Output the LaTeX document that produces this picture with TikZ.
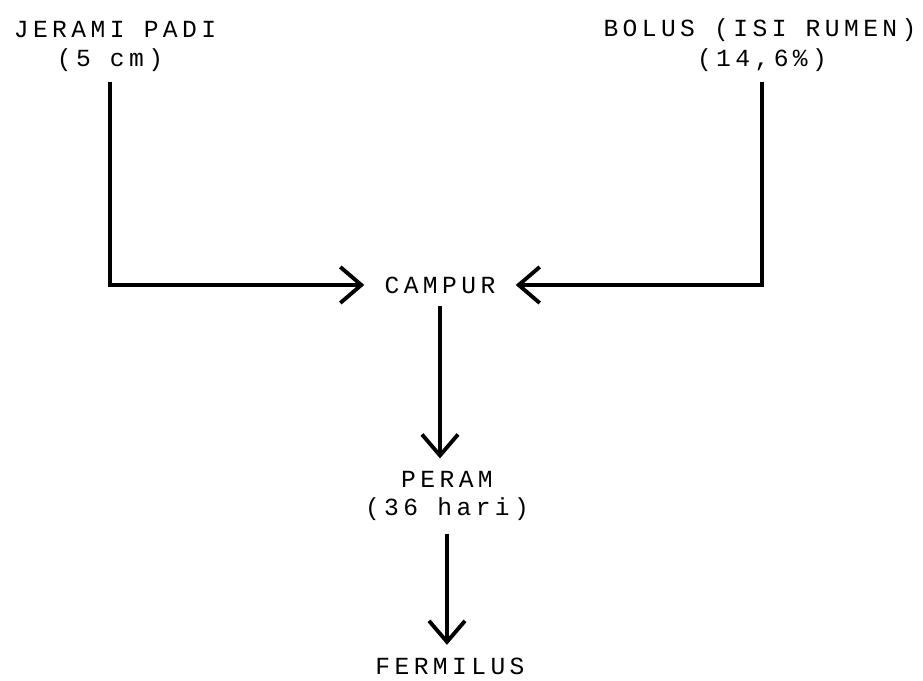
\documentclass[tikz,border=0pt]{standalone}
\usepackage{fontspec}
\setmainfont[LetterSpace=18]{Liberation Mono}
\usetikzlibrary{arrows.meta}

\begin{document}
\begin{tikzpicture}[
    arr/.style={-{Straight Barb[length=0.42cm, width=0.72cm, line width=2.2pt]}, line width=2.2pt, black},
    lbl/.style={font=\fontsize{14}{16}\selectfont, inner sep=0pt},
    mid/.style={lbl, inner xsep=0.4cm, inner ysep=0.25cm},
]

\useasboundingbox (0, 0) rectangle (18.46, 13.62);

% --- Inputs (top) ---
\node[lbl] (jerami) at (2.3, 13.02) {JERAMI PADI};
\node[lbl, inner ysep=0.2cm] (jeramisz) at (2.2, 12.42) {(5 cm)};

\node[lbl] (bolus) at (15.2, 13.02) {BOLUS (ISI RUMEN)};
\node[lbl, inner ysep=0.2cm] (bolussz) at (15.24, 12.42) {(14,6\%)};

% --- Mixing ---
\node[mid] (campur) at (8.8, 7.92) {CAMPUR};

% --- Ripening ---
\node[mid, align=center] (peram) at (8.94, 3.7) {PERAM\\(36 hari)};

% --- Product ---
\node[mid] (fermilus) at (9.0, 0.3) {FERMILUS};

\draw[arr] (jeramisz.south) |- (campur.west);
\draw[arr] (bolussz.south) |- (campur.east);
\draw[arr] (campur.south) -- (campur.south |- peram.north);
\draw[arr] (peram.south) -- (peram.south |- fermilus.north);

\end{tikzpicture}
\end{document}
